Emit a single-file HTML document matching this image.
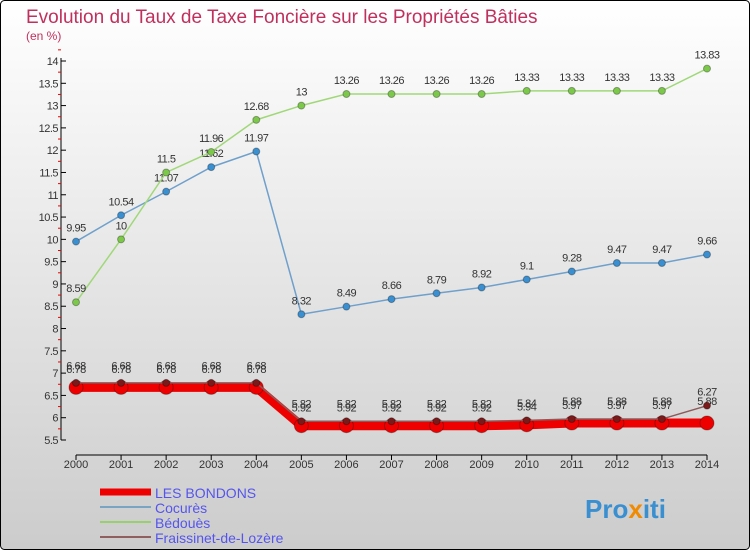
<!DOCTYPE html>
<html><head><meta charset="utf-8"><style>
body{margin:0;width:750px;height:550px;overflow:hidden;font-family:"Liberation Sans",sans-serif}
</style></head><body>
<svg width="750" height="550" viewBox="0 0 750 550" xmlns="http://www.w3.org/2000/svg">
<defs><linearGradient id="bg" x1="0" y1="0" x2="0" y2="1"><stop offset="0" stop-color="#ffffff"/><stop offset="1" stop-color="#cccccc"/></linearGradient></defs>
<rect x="0.5" y="0.5" width="749" height="549" rx="4" fill="url(#bg)" stroke="#000"/>
<text x="26" y="23" font-size="19" fill="#c0305e">Evolution du Taux de Taxe Foncière sur les Propriétés Bâties</text>
<text x="26" y="40" font-size="12" fill="#c0305e">(en %)</text>
<g id="axes"></g><g id="series"></g><g id="legend"></g>
<text x="585" y="518" font-size="26" font-weight="bold" fill="#3a8fd0">Pro<tspan fill="#f08a00">x</tspan>iti</text>
</svg>
<script>
const years=[2000,2001,2002,2003,2004,2005,2006,2007,2008,2009,2010,2011,2012,2013,2014];
const bondons=[6.68,6.68,6.68,6.68,6.68,5.82,5.82,5.82,5.82,5.82,5.84,5.88,5.88,5.88,5.88];
const cocures=[9.95,10.54,11.07,11.62,11.97,8.32,8.49,8.66,8.79,8.92,9.1,9.28,9.47,9.47,9.66];
const bedoues=[8.59,10,11.5,11.96,12.68,13,13.26,13.26,13.26,13.26,13.33,13.33,13.33,13.33,13.83];
const fraissinet=[6.78,6.78,6.78,6.78,6.78,5.92,5.92,5.92,5.92,5.92,5.94,5.97,5.97,5.97,6.27];
const yTicks=[5.5,6,6.5,7,7.5,8,8.5,9,9.5,10,10.5,11,11.5,12,12.5,13,13.5,14];
const NS="http://www.w3.org/2000/svg";
const X=i=>76+i*(707-76)/14, Y=v=>440-(v-5.5)*(440-61)/8.5;
function mk(t,a,p){const e=document.createElementNS(NS,t);for(const k in a)e.setAttribute(k,a[k]);(p||document.getElementById('axes')).appendChild(e);return e;}
const ax=document.getElementById('axes');
let e=mk('line',{x1:61,y1:58,x2:61,y2:440,stroke:'#000'});


e=mk('line',{x1:76,y1:455,x2:707,y2:455,stroke:'#000'});


yTicks.forEach(v=>{mk('line',{x1:61,y1:Y(v),x2:66,y2:Y(v),stroke:'#000'});
 mk('line',{x1:58,y1:Y(v+0.25),x2:61,y2:Y(v+0.25),stroke:'#e00'});
 const t=mk('text',{x:58,y:Y(v)+4,'font-size':11,'text-anchor':'end',fill:'#333','letter-spacing':'-0.5'});t.textContent=v;
 
 });
years.forEach((y,i)=>{mk('line',{x1:X(i),y1:455,x2:X(i),y2:460,stroke:'#000'});
 const t=mk('text',{x:X(i),y:468,'font-size':11,'text-anchor':'middle',fill:'#333'});t.textContent=y;
 
 });
const sg=document.getElementById('series');
function series(name,data,color,w,r,dot,dy){
 const g=mk('g',{},sg);
 
 
 mk('polyline',{points:data.map((v,i)=>X(i)+','+Y(v)).join(' '),fill:'none',stroke:color,'stroke-width':w},g);
 data.forEach((v,i)=>{const c=mk('circle',{cx:X(i),cy:Y(v),r:r,fill:dot,stroke:'rgba(0,0,0,0.3)'},g);
  
  
  const t=mk('text',{x:X(i),y:Y(v)+dy,'font-size':11,'text-anchor':'middle',fill:'#333','letter-spacing':'-0.5'},g);t.textContent=v;
  
  });
}
series('bondons',bondons,'#ee0000',9,7,'#ee0000',-18);
series('cocures',cocures,'#6fa0cc',1.5,3.5,'#3a8fd0',-10);
series('bedoues',bedoues,'#a0d878',1.5,3.5,'#7cc84a',-10);
series('fraissinet',fraissinet,'#8c5a5a',1.5,3.5,'#7a1a1a',-10);
const lg=document.getElementById('legend');
[['LES BONDONS','#ee0000',7],['Cocurès','#7aa4c4',2],['Bédouès','#98d070',2],['Fraissinet-de-Lozère','#906060',2]].forEach((d,i)=>{
 const y=492+i*15;
 const g=mk('g',{},lg);
 
 
 mk('line',{x1:100,y1:y,x2:151,y2:y,stroke:d[1],'stroke-width':d[2]},g);
 const t=mk('text',{x:155,y:y+6,'font-size':14,fill:'#5555ee'},g);t.textContent=d[0];
});
</script>
</body></html>
